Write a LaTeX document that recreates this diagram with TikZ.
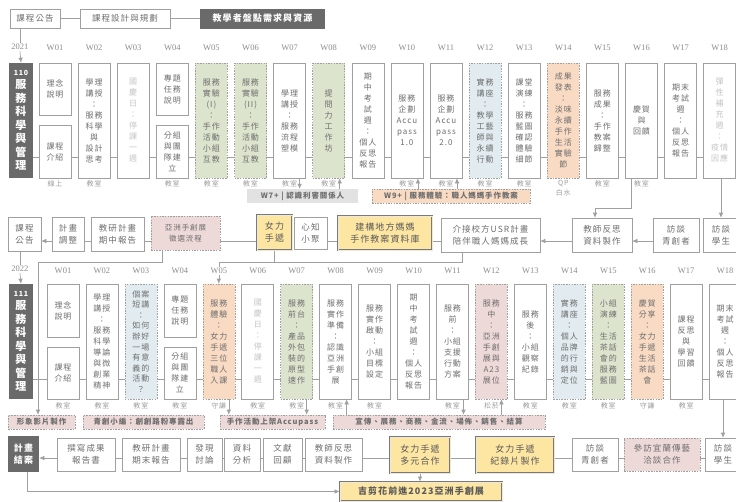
\documentclass[tikz,border=0pt]{standalone}
\usepackage{fontspec}
\setmainfont{Noto Sans CJK TC}[LetterSpace=12]
\newfontfamily\lat{Liberation Serif}
\usetikzlibrary{arrows.meta,backgrounds}
\definecolor{ln}{HTML}{A0A0A0}
\definecolor{tx}{HTML}{6E6E6E}
\definecolor{lt}{HTML}{C4C4C4}
\definecolor{dk}{HTML}{6A6A6A}
\definecolor{gr}{HTML}{DCE4CD}
\definecolor{bl}{HTML}{E2ECF0}
\definecolor{og}{HTML}{F9DBC4}
\definecolor{pk}{HTML}{EED9D9}
\definecolor{ye}{HTML}{FDE5A2}
\definecolor{gy}{HTML}{E2E2E2}
\definecolor{wl}{HTML}{8C8C8C}
\definecolor{dbl}{HTML}{EEE8D8}
\newcommand\Xa[1]{{55+39.1*(#1-1)}}
\newcommand\Xb[1]{{63+38.95*(#1-1)}}
\begin{document}
\begin{tikzpicture}[x=1pt,y=-1pt,
 bx/.style={draw=ln, fill=white, line width=0.6pt, text=tx, align=center, inner sep=0pt, font=\fontsize{8}{11}\selectfont},
 dsh/.style={bx, dash pattern=on 1.5pt off 1.2pt},
 gbox/.style={dsh, fill=gr}, bbox/.style={dsh, fill=bl}, obox/.style={dsh, fill=og}, pbox/.style={dsh, fill=pk},
 ybox/.style={bx, fill=ye, draw=dk!90, double=dbl, double distance=1pt, line width=0.9pt, text=dk!85!black, font=\fontsize{9}{12}\selectfont},
 dbox/.style={bx, fill=dk, draw=none, text=white, font=\fontsize{9}{11.5}\selectfont\bfseries},
 gry/.style={text=lt},
 f1/.style={minimum width=32pt, minimum height=115pt},
 t1/.style={minimum width=32pt, minimum height=52pt},
 b1/.style={minimum width=32pt, minimum height=53pt},
 t2/.style={minimum width=32pt, minimum height=53pt},
 b2/.style={minimum width=32pt, minimum height=52pt},
 mb/.style={bx, minimum height=34pt, font=\fontsize{8.5}{12}\selectfont},
 wk/.style={text=wl, font=\lat\fontsize{8.5}{10}\selectfont, inner sep=1pt},
 loc/.style={text=wl!85, font=\fontsize{7}{10}\selectfont, inner sep=0pt, anchor=north, align=center},
 tag/.style={minimum height=14pt, font=\fontsize{7.5}{9}\selectfont\bfseries, inner sep=0pt},
 conn/.style={draw=ln, line width=0.6pt},
 arr/.style={conn, -{Latex[length=5pt,width=4.5pt]}}
]
\useasboundingbox (0,0) rectangle (736,501);
\begin{scope}[on background layer]
\fill[white] (0,0) rectangle (736,501);
\end{scope}
\coordinate (L1) at (0,157);
\coordinate (L2) at (0,241);
\coordinate (L3) at (0,458);
\coordinate (L4) at (0,379);
\coordinate (Jy) at (0,262);

% header
\node[bx, minimum width=50pt, minimum height=19pt, font=\fontsize{8.5}{10}\selectfont] (hk) at (35,18.5) {課程公告};
\node[bx, minimum width=90pt, minimum height=19pt, font=\fontsize{8.5}{10}\selectfont] (hd) at (125,18.5) {課程設計與規劃};
\node[dbox, minimum width=125pt, minimum height=20pt] (hn) at (262.5,18.5) {教學者盤點需求與資源};

% ---------- 2021 row ----------
\node[wk] (y21) at (20,47) {2021};
\foreach \i in {1,...,18} {\node[wk] (wa\i) at (\Xa{\i},48) {W\ifnum\i<10 0\fi\i};}
\node[dbox, minimum width=24pt, minimum height=115pt, font=\fontsize{11}{13.5}\selectfont\bfseries] (d110) at (21,120.5) {{\fontsize{7}{9}\selectfont 110}\\服\\務\\科\\學\\與\\管\\理};

\node[bx,t1] (r1w01a) at (\Xa{1},89) {理念\\說明};
\node[bx,b1] (r1w01b) at (\Xa{1},151.5) {課程\\介紹};
\node[bx,f1] (r1w02) at (\Xa{2},120.5) {學理\\講授\\：\\服務\\科學\\與\\設計\\思考};
\node[bx,f1,gry] (r1w03) at (\Xa{3},120.5) {國\\慶\\日\\：\\停\\課\\一\\週};
\node[bx,t1] (r1w04a) at (\Xa{4},89) {專題\\任務\\說明};
\node[bx,b1] (r1w04b) at (\Xa{4},151.5) {分組\\與團\\隊建\\立};
\node[gbox,f1] (r1w05) at (\Xa{5},120.5) {服務\\實驗\\(I)\\：\\手作\\活動\\小組\\互教};
\node[gbox,f1] (r1w06) at (\Xa{6},120.5) {服務\\實驗\\(II)\\：\\手作\\活動\\小組\\互教};
\node[bx,f1] (r1w07) at (\Xa{7},120.5) {學理\\講授\\：\\服務\\流程\\塑模};
\node[gbox,f1] (r1w08) at (\Xa{8},120.5) {提\\問\\力\\工\\作\\坊};
\node[bx,f1] (r1w09) at (\Xa{9},120.5) {期\\中\\考\\試\\週\\：\\個人\\反思\\報告};
\node[bx,f1] (r1w10) at (\Xa{10},120.5) {服務\\企劃\\Accu\\pass\\1.0};
\node[bx,f1] (r1w11) at (\Xa{11},120.5) {服務\\企劃\\Accu\\pass\\2.0};
\node[bbox,f1] (r1w12) at (\Xa{12},120.5) {實務\\講座\\：\\教學\\工藝\\師與\\永續\\行動};
\node[bx,f1] (r1w13) at (\Xa{13},120.5) {課堂\\演練\\：\\服務\\藍圖\\確認\\體驗\\細節};
\node[obox,f1] (r1w14) at (\Xa{14},120.5) {成果\\發表\\：\\淡味\\永續\\手作\\生活\\實驗\\節};
\node[bx,f1] (r1w15) at (\Xa{15},120.5) {服務\\成果\\：\\手作\\教案\\歸整};
\node[bx,f1] (r1w16) at (\Xa{16},120.5) {慶賀\\與\\回饋};
\node[bx,f1] (r1w17) at (\Xa{17},120.5) {期末\\考試\\週\\：\\個人\\反思\\報告};
\node[bx,f1,gry] (r1w18) at (\Xa{18},120.5) {彈\\性\\補\\充\\週\\：\\疫情\\因應};

\foreach \i/\t in {1/線上,2/教室,4/教室,5/教室,6/教室,7/教室,8/教室,10/教室,11/教室,12/教室,13/教室,14/{QP\\白水},15/教室,16/教室}
 {\node[loc] (la\i) at (\Xa{\i},180) {\t};}

\node[tag, fill=gy, text=tx, minimum width=111pt] (w7p) at (302.5,196) {W7+ | 認識利害關係人};
\node[obox, tag, minimum width=158pt] (w9p) at (451,196) {W9+ | 服務體驗：職人媽媽手作教案};

% ---------- middle row ----------
\node[mb, minimum width=33pt] (kg1) at (24.5,234) {課程\\公告};
\node[mb, minimum width=32pt] (jt) at (68,234) {計畫\\調整};
\node[mb, minimum width=53pt] (jq) at (117.5,234) {教研計畫\\期中報告};
\node[pbox, minimum width=69pt, minimum height=34pt, font=\fontsize{7.5}{11}\selectfont] (ya) at (185.5,233) {亞洲手創展\\徵選流程};
\node[ybox, minimum width=35pt, minimum height=35pt] (nl1) at (274.5,232.5) {女力\\手遞};
\node[mb, minimum width=33pt, minimum height=32pt] (xz) at (310.5,233) {心知\\小聚};
\node[ybox, minimum width=94pt, minimum height=34pt] (jg) at (385,233) {建構地方媽媽\\手作教案資料庫};
\node[mb, minimum width=99pt] (jj) at (490.5,235) {介接校方USR計畫\\陪伴職人媽媽成長};
\node[mb, minimum width=60pt] (tf1) at (602,235) {教師反思\\資料製作};
\node[mb, minimum width=46pt] (fq1) at (676,235) {訪談\\青創者};
\node[mb, minimum width=36pt] (fs1) at (721,235) {訪談\\學生};

% ---------- 2022 row ----------
\node[wk] (y22) at (20,269) {2022};
\foreach \i in {1,...,18} {\node[wk] (wb\i) at (\Xb{\i},271) {W\ifnum\i<10 0\fi\i};}
\node[dbox, minimum width=24pt, minimum height=115pt, font=\fontsize{11}{13.5}\selectfont\bfseries] (d111) at (21,341.5) {{\fontsize{7}{9}\selectfont 111}\\服\\務\\科\\學\\與\\管\\理};

\node[bx,t2] (r2w01a) at (\Xb{1},310.5) {理念\\說明};
\node[bx,b2] (r2w01b) at (\Xb{1},373) {課程\\介紹};
\node[bx,f1] (r2w02) at (\Xb{2},341.5) {學理\\講授\\：\\服務\\科學\\導論\\與微\\創業\\精神};
\node[bbox,f1,font=\fontsize{8}{10.6}\selectfont] (r2w03) at (\Xb{3},341.5) {個案\\短講\\：\\如何\\辦好\\一場\\有意\\義的\\活動\\？};
\node[bx,t2] (r2w04a) at (\Xb{4},310.5) {專題\\任務\\說明};
\node[bx,b2] (r2w04b) at (\Xb{4},373) {分組\\與團\\隊建\\立};
\node[obox,f1] (r2w05) at (\Xb{5},341.5) {服務\\體驗\\：\\女力\\手遞\\三位\\職人\\入課};
\node[bx,f1,gry] (r2w06) at (\Xb{6},341.5) {國\\慶\\日\\：\\停\\課\\一\\週};
\node[gbox,f1] (r2w07) at (\Xb{7},341.5) {服務\\前台\\：\\產品\\外包\\裝的\\原型\\速作};
\node[bx,f1] (r2w08) at (\Xb{8},341.5) {服務\\實作\\準備\\：\\認識\\亞洲\\手創\\展};
\node[bx,f1] (r2w09) at (\Xb{9},341.5) {服務\\實作\\啟動\\：\\小組\\目標\\設定};
\node[bx,f1] (r2w10) at (\Xb{10},341.5) {期\\中\\考\\試\\週\\：\\個人\\反思\\報告};
\node[bx,f1] (r2w11) at (\Xb{11},341.5) {服務\\前\\：\\小組\\支援\\行動\\方案};
\node[pbox,f1] (r2w12) at (\Xb{12},341.5) {服務\\中\\：\\亞洲\\手創\\展與\\A23\\展位};
\node[bx,f1] (r2w13) at (\Xb{13},341.5) {服務\\後\\：\\小組\\觀察\\紀錄};
\node[bbox,f1] (r2w14) at (\Xb{14},341.5) {實務\\講座\\：\\個人\\品牌\\的行\\銷與\\定位};
\node[gbox,f1] (r2w15) at (\Xb{15},341.5) {小組\\演練\\：\\生活\\茶話\\會的\\服務\\藍圖};
\node[obox,f1] (r2w16) at (\Xb{16},341.5) {慶賀\\分享\\：\\女力\\手遞\\生活\\茶話\\會};
\node[bx,f1] (r2w17) at (\Xb{17},341.5) {課程\\反思\\與\\學習\\回饋};
\node[bx,f1] (r2w18) at (\Xb{18},341.5) {期末\\考試\\週\\：\\個人\\反思\\報告};

\foreach \i/\t in {1/教室,2/教室,3/教室,4/教室,5/守謙,6/教室,7/教室,8/教室,9/教室,11/教室,12/松菸,13/教室,14/教室,15/教室,16/守謙,17/教室}
 {\node[loc] (lb\i) at (\Xb{\i},402) {\t};}

% pink tags
\node[pbox, tag, minimum width=67pt] (xf) at (41.5,422) {形象影片製作};
\node[pbox, tag, minimum width=121pt] (qc) at (143.5,422) {青創小編：創創路粉專露出};
\node[pbox, tag, minimum width=105pt] (ha) at (272.5,422) {手作活動上架Accupass};
\node[pbox, tag, minimum width=212pt] (xc) at (439,422) {宣傳、展務、商務、金流、場佈、銷售、結算};

% ---------- bottom row ----------
\node[dbox, minimum width=31pt, minimum height=36pt] (jz) at (23.5,454) {計畫\\結案};
\node[mb, minimum width=58pt, minimum height=33pt] (zx) at (86,454.5) {撰寫成果\\報告書};
\node[mb, minimum width=58pt, minimum height=33pt] (jm) at (151,454.5) {教研計畫\\期末報告};
\node[mb, minimum width=35pt, minimum height=33pt] (fx) at (204.5,454.5) {發現\\討論};
\node[mb, minimum width=36pt, minimum height=33pt] (zl) at (242,454.5) {資料\\分析};
\node[mb, minimum width=39pt, minimum height=33pt] (wx) at (282.5,454.5) {文獻\\回顧};
\node[mb, minimum width=57pt, minimum height=33pt] (tf2) at (333.5,454.5) {教師反思\\資料製作};
\node[ybox, minimum width=60pt, minimum height=36pt] (dy) at (420,455) {女力手遞\\多元合作};
\node[ybox, minimum width=78pt, minimum height=36pt] (jl) at (515,455) {女力手遞\\紀錄片製作};
\node[mb, minimum width=46pt, minimum height=33pt] (fq2) at (595,454.5) {訪談\\青創者};
\node[pbox, minimum width=76pt, minimum height=33pt, font=\fontsize{8.5}{12}\selectfont] (cf) at (662,454.5) {參訪宜蘭傳藝\\洽談合作};
\node[mb, minimum width=36pt, minimum height=33pt] (fs2) at (723,454.5) {訪談\\學生};
\node[ybox, minimum width=162pt, minimum height=19pt, font=\fontsize{9}{11}\selectfont\bfseries] (jx) at (421,491.5) {吉剪花前進2023亞洲手創展};

% ---------- connectors ----------
\begin{scope}[on background layer]
\draw[conn] (hk) -- (hd);
\draw[conn] (hd) -- (hn);
\draw[conn] (hk.south -| y21) -- (y21.north);
\draw[arr] (y21.south) -- (d110.north);
\draw[conn] (d110.east |- L1) -- (r1w18.west |- L1);
% top row arrows
\coordinate (a7) at ([xshift=10pt]r1w07.south);
\draw[arr] (a7) -- (a7 |- w7p.north);
\coordinate (a8) at ([xshift=11pt]r1w08.south);
\draw[arr] (a8 |- w7p.north) -- (a8);
\coordinate (a10) at ([xshift=11pt]r1w10.south);
\draw[arr] (a10 |- w9p.north) -- (a10);
\coordinate (a11) at ([xshift=11pt]r1w11.south);
\draw[arr] (a11 |- w9p.north) -- (a11);
\coordinate (c16) at ([xshift=-10pt]r1w16.south);
\draw[arr] (c16) -- ++(0,30) -| ([xshift=-7pt]tf1.north);
\draw[arr] (r1w18.south -| fs1) -- (fs1.north);
% middle row
\draw[arr] (jt.west |- L2) -- (kg1.east |- L2);
\draw[conn] (jq.west |- L2) -- (jt.east |- L2);
\draw[conn] (ya.west |- L2) -- (jq.east |- L2);
\draw[conn] (nl1.west |- L2) -- (ya.east |- L2);
\draw[conn] (jg.west |- L2) -- (xz.east |- L2);
\draw[conn] (jj.west |- L2) -- (jg.east |- L2);
\draw[arr] (tf1.west |- L2) -- (jj.east |- L2);
\draw[arr] (fq1.west |- L2) -- (tf1.east |- L2);
% down to 2022
\draw[conn] (kg1.south -| y22) -- (y22.north);
\draw[arr] (y22.south) -- (d111.north);
\coordinate (c1) at ([xshift=-23.5pt]ya.south);
\coordinate (c2) at (38,262);
\draw[arr] (c1) |- (c2) -- (c2 |- xf.north);
\draw[conn] (nl1.south) -- (nl1.south |- Jy);
\coordinate (c3) at ([xshift=-28.5pt]jj.south);
\draw[conn] (c3) -- (c3 |- Jy) -- (wb5 |- Jy) -- (wb5.north);
\draw[arr] (wb5.south) -- (r2w05.north);
% 2022 row
\draw[conn] (d111.east |- L4) -- (r2w18.west |- L4);
\coordinate (b5) at ([xshift=10pt]r2w05.south);
\draw[arr] (b5) -- (b5 |- ha.north);
\coordinate (b7) at ([xshift=10pt]r2w07.south);
\draw[arr] (b7) -- (b7 |- ha.north);
\coordinate (b8) at ([xshift=11pt]r2w08.south);
\draw[arr] (b8 |- xc.north) -- (b8);
\coordinate (b11) at ([xshift=11pt]r2w11.south);
\draw[arr] (b11) -- (b11 |- xc.north);
\coordinate (b12) at ([xshift=10pt]r2w12.south);
\draw[arr] (b12 |- xc.north) -- (b12);
\draw[arr] (r2w18.south -| fs2) -- (fs2.north);
% bottom row
\draw[arr] (zx.west |- L3) -- (jz.east |- L3);
\draw[conn] (jm.west |- L3) -- (zx.east |- L3);
\draw[conn] (fx.west |- L3) -- (jm.east |- L3);
\draw[conn] (zl.west |- L3) -- (fx.east |- L3);
\draw[conn] (wx.west |- L3) -- (zl.east |- L3);
\draw[conn] (tf2.west |- L3) -- (wx.east |- L3);
\draw[conn] (dy.west |- L3) -- (tf2.east |- L3);
\draw[conn] (jl.west |- L3) -- (dy.east |- L3);
\draw[conn] (fq2.west |- L3) -- (jl.east |- L3);
\draw[conn] (cf.west |- L3) -- (fq2.east |- L3);
\draw[conn] (fs2.west |- L3) -- (cf.east |- L3);
\coordinate (c4) at ([xshift=3.5pt]jz.south);
\draw[arr] (c4) |- (jx.west);
\draw[arr] (dy.south) -- (dy.south |- jx.north);
\end{scope}
\end{tikzpicture}
\end{document}
